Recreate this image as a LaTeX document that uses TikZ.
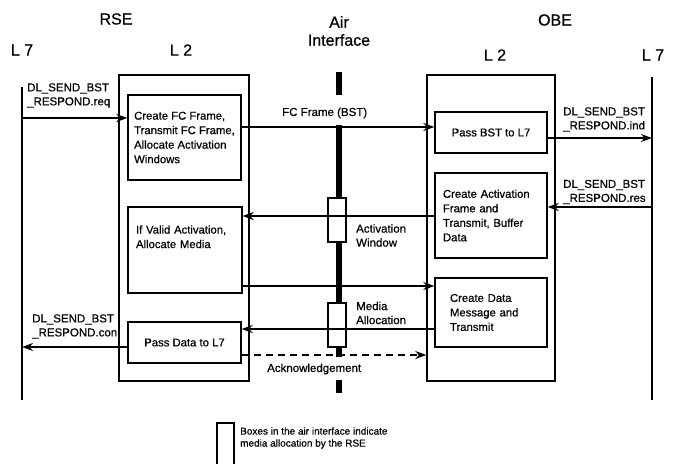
\documentclass[tikz,border=0pt]{standalone}
\usepackage{fontspec}
\setmainfont{Liberation Sans}[FakeBold=0.6]
\usetikzlibrary{arrows.meta}
\begin{document}
\begin{tikzpicture}[x=1pt,y=-1pt,
  box/.style={draw, line width=1.4pt, inner sep=0pt, align=left, font=\fontsize{11.3}{14.5}\selectfont},
  outer/.style={draw, line width=1.4pt, inner sep=0pt},
  airbox/.style={draw, fill=white, line width=1.1pt, minimum width=18pt, minimum height=44pt, inner sep=0pt},
  msg/.style={line width=1.4pt, -{Stealth[length=11pt,width=8pt]}},
  lbl/.style={inner sep=0pt, align=left, font=\fontsize{11.5}{14}\selectfont},
  head/.style={inner sep=0pt, align=center, font=\fontsize{16}{18}\selectfont},
  lifeline/.style={line width=1.4pt},
  air/.style={line width=6pt}]
\useasboundingbox (0,0) rectangle (674,463);

% headers
\node[head] (hrse) at (116,19) {RSE};
\node[head] (hair) at (339,31) {Air\\[0pt]Interface};
\node[head] (hobe) at (555,20) {OBE};
\node[head] (hl7a) at (22,50) {L 7};
\node[head] (hl2a) at (181,50) {L 2};
\node[head] (hl2b) at (495,55) {L 2};
\node[head] (hl7b) at (653,55) {L 7};

% L7 lifelines
\coordinate (l7Ltop) at (22,87);
\coordinate (l7Lbot) at (22,400);
\coordinate (l7Rtop) at (652,77);
\coordinate (l7Rbot) at (652,400);
\draw[lifeline] (l7Ltop) -- (l7Lbot);
\draw[lifeline] (l7Rtop) -- (l7Rbot);

% air interface
\coordinate (a1) at (339,72);  \coordinate (a2) at (339,95);
\coordinate (a3) at (339,125); \coordinate (a4) at (339,357);
\coordinate (a5) at (339,380); \coordinate (a6) at (339,393);
\draw[air] (a1) -- (a2);
\draw[air] (a3) -- (a4);
\draw[air] (a5) -- (a6);
\node[airbox] (ab1) at (337,220) {};
\node[airbox] (ab2) at (337,325) {};

% RSE L2
\node[outer, minimum width=130pt, minimum height=306pt] (rout) at (184,228) {};
\node[box, minimum width=113pt, minimum height=85pt] (rb1) at (184.5,137.5)
  {Create FC Frame,\\Transmit FC Frame,\\Allocate Activation\\Windows};
\node[box, minimum width=114pt, minimum height=86pt, inner xsep=8pt, text width=98pt] (rb2) at (185,250)
  {If Valid Activation,\\Allocate Media\\[12pt]\mbox{}};
\node[box, minimum width=113pt, minimum height=41pt] (rb3) at (184.5,342.5)
  {Pass Data to L7};

% OBE L2
\node[outer, minimum width=128pt, minimum height=306pt] (oout) at (491,228) {};
\node[box, minimum width=112pt, minimum height=41pt] (ob1) at (491,132.5)
  {Pass BST to L7};
\node[box, minimum width=112pt, minimum height=85pt, inner xsep=8pt, text width=96pt] (ob2) at (491,215.5)
  {Create Activation\\Frame and\\Transmit, Buffer\\Data};
\node[box, minimum width=112pt, minimum height=69pt, inner xsep=15pt, text width=82pt] (ob3) at (491,312.5)
  {Create Data\\Message and\\Transmit};

% messages
\draw[msg] (l7Ltop |- 0,118) -- (rb1.west |- 0,118);
\draw[msg] (rb1.east |- 0,127) -- (ob1.west |- 0,127);
\draw[msg] (ob1.east |- 0,138) -- (l7Rtop |- 0,138);
\draw[msg] (l7Rtop |- 0,207) -- (ob2.east |- 0,207);
\draw[msg] (ob2.west |- 0,216) -- (rb2.east |- 0,216);
\draw[msg] (rb2.east |- 0,286) -- (ob3.west |- 0,286);
\draw[msg] (ob3.west |- 0,329) -- (rb3.east |- 0,329);
\draw[msg, dash pattern=on 7pt off 5pt] (rb3.east |- 0,355) -- (oout.west |- 0,355);
\draw[msg] (rb3.west |- 0,347) -- (l7Ltop |- 0,347);

% labels
\node[lbl, anchor=west] (lreq) at (27,95.5) {DL\_SEND\_BST\\\_RESPOND.req};
\node[lbl, anchor=west] (lind) at (563,119.5) {DL\_SEND\_BST\\\_RESPOND.ind};
\node[lbl, anchor=west] (lres) at (563,192) {DL\_SEND\_BST\\\_RESPOND.res};
\node[lbl, anchor=west] (lcon) at (32,326.5) {DL\_SEND\_BST\\\_RESPOND.con};
\node[lbl, anchor=west] (lfc) at (282,113) {FC Frame (BST)};
\node[lbl, anchor=west] (lact) at (356,235.5) {Activation\\Window};
\node[lbl, anchor=west] (lmed) at (356,313) {Media\\Allocation};
\node[lbl, anchor=west] (lack) at (267,369) {Acknowledgement};

% legend
\node[draw, line width=1.1pt, minimum width=17pt, minimum height=42pt, inner sep=0pt] (leg) at (225.5,444) {};
\node[inner sep=0pt, anchor=west, align=left, font=\fontsize{10}{12}\selectfont] (legt) at (240,438)
  {Boxes in the air interface indicate\\media allocation by the RSE};
\end{tikzpicture}
\end{document}
